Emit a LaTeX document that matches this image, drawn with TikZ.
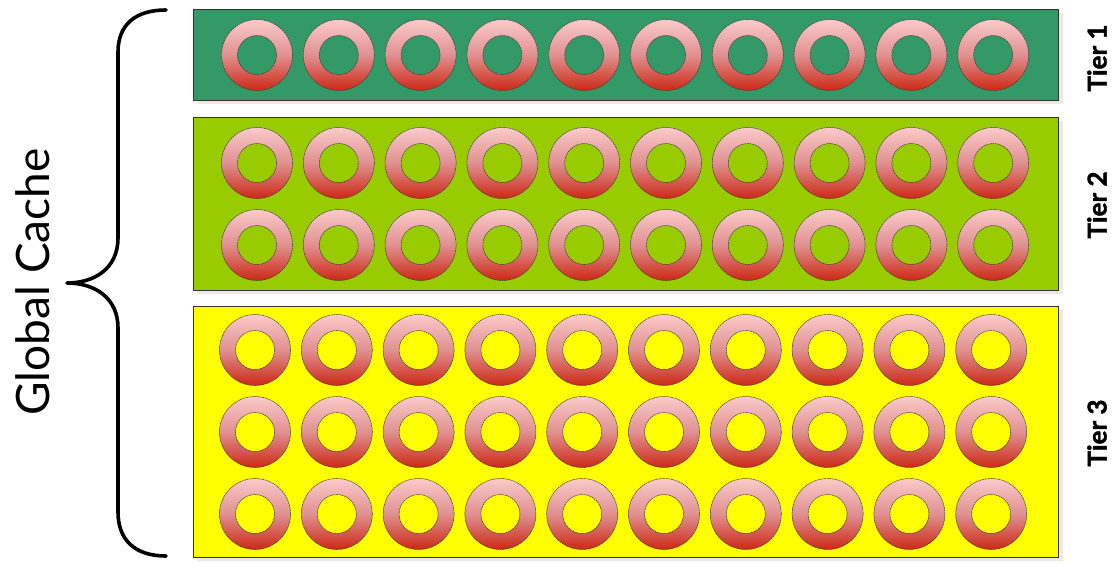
\documentclass[tikz,border=0pt]{standalone}
\usepackage{fontspec}
\setmainfont{Lato}
\newfontfamily\heavyfont{Lato}[BoldFeatures={FakeBold=1.6}]
\begin{document}
\begin{tikzpicture}[x=1pt,y=-1pt,
  tierbox/.style={draw=black!80, line width=0.9pt},
  ringfill/.style={top color=ringtop, bottom color=ringbot, middle color=ringmid, even odd rule},
  ringline/.style={draw=black!75, line width=0.5pt, dash pattern=on 2pt off 0.6pt},
  tierlabel/.style={rotate=90, font=\heavyfont\bfseries\fontsize{26}{30}\selectfont, inner sep=0pt},
  bracestyle/.style={line width=3.6pt, line cap=round, line join=round}
]
\definecolor{tierone}{HTML}{339966}
\definecolor{tiertwo}{HTML}{99CC00}
\definecolor{tierthree}{HTML}{FFFF00}
\definecolor{ringtop}{HTML}{FBCACA}
\definecolor{ringmid}{HTML}{E09090}
\definecolor{ringbot}{HTML}{CC2814}
\definecolor{shadowc}{HTML}{ECE9DF}
\useasboundingbox (0,0) rectangle (1116,563);
\fill[white] (0,0) rectangle (1116,563);
% shadows
\fill[shadowc] (197,13) rectangle (1063,104);
\fill[shadowc] (197,121) rectangle (1063,294);
\fill[shadowc] (197,310) rectangle (1063,561);
% tier boxes
\draw[tierbox, fill=tierone] (193,9) rectangle (1058,100);
\draw[tierbox, fill=tiertwo] (193,117) rectangle (1058,290);
\draw[tierbox, fill=tierthree] (193,306) rectangle (1058,557);
% rings
\foreach \yy/\dx in {55/0, 163/0, 245/0, 350/-2, 432/-2, 514/-2}{
  \foreach \i in {0,...,9}{
    \pgfmathsetmacro{\xx}{257+\dx+81.8*\i}
    \shade[ringfill] (\xx,\yy) circle (35.5) (\xx,\yy) circle (19.5);
    \draw[ringline] (\xx,\yy) circle (35.5);
    \draw[ringline] (\xx,\yy) circle (19.5);
  }
}
% labels
\node[tierlabel] (t1) at (1097,58) {Tier 1};
\node[tierlabel] (t2) at (1097,205) {Tier 2};
\node[tierlabel] (t3) at (1097,433) {Tier 3};
\node[rotate=90, inner sep=0pt, font=\fontsize{46}{50}\selectfont] (gc) at (33,282) {Global Cache};
% brace
\draw[bracestyle] (166,10) .. controls (135,10) and (118,25) .. (118,52)
  -- (118,238) .. controls (118,268) and (95,283) .. (67,283)
  .. controls (95,283) and (118,298) .. (118,328)
  -- (118,512) .. controls (118,540) and (135,556) .. (166,556);
\end{tikzpicture}
\end{document}
